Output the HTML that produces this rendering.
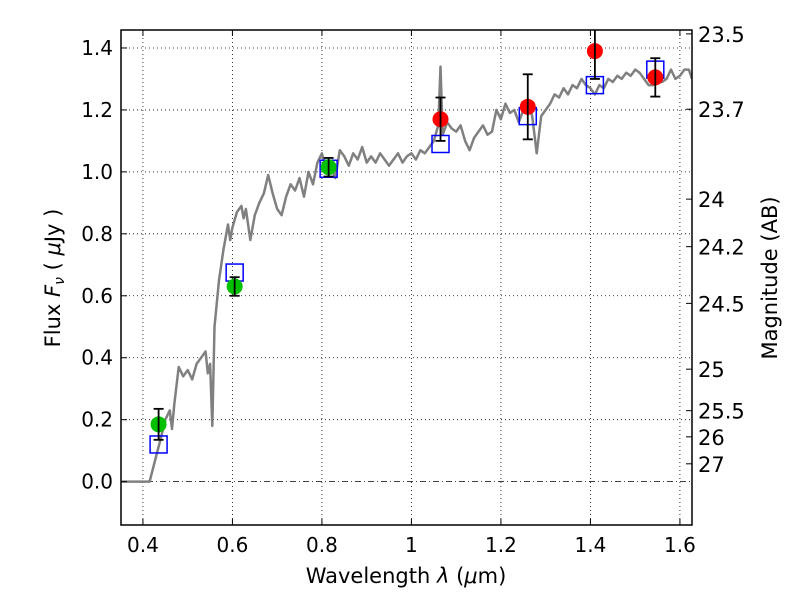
<!DOCTYPE html>
<html><head><meta charset="utf-8"><style>
body{margin:0;background:#fff}
svg{display:block;font-family:"DejaVu Sans","Liberation Sans",sans-serif}
</style></head><body>
<svg id="chart" width="800" height="600" viewBox="0 0 800 600">
<rect width="800" height="600" fill="#fff"/>
<g id="grid"></g><g id="marks"></g><g id="axes"></g>
</svg>
<script>
const specX=[0.35,0.415,0.44,0.45,0.46,0.465,0.47,0.48,0.49,0.50,0.51,0.52,0.53,0.54,0.545,0.55,0.555,0.56,0.57,0.58,0.59,0.595,0.60,0.61,0.62,0.625,0.63,0.64,0.65,0.66,0.67,0.68,0.69,0.70,0.71,0.72,0.73,0.74,0.75,0.76,0.77,0.78,0.79,0.80,0.81,0.82,0.83,0.84,0.85,0.86,0.87,0.88,0.89,0.90,0.91,0.92,0.93,0.94,0.95,0.96,0.97,0.98,0.99,1.00,1.01,1.02,1.03,1.04,1.05,1.06,1.065,1.07,1.08,1.09,1.10,1.11,1.12,1.13,1.14,1.15,1.16,1.17,1.18,1.19,1.20,1.21,1.22,1.23,1.24,1.25,1.26,1.27,1.28,1.29,1.30,1.31,1.32,1.33,1.34,1.35,1.36,1.37,1.38,1.39,1.40,1.41,1.42,1.43,1.44,1.45,1.46,1.47,1.48,1.49,1.50,1.51,1.52,1.53,1.54,1.55,1.56,1.57,1.58,1.59,1.60,1.61,1.62,1.627];
const specY=[0,0,0.14,0.2,0.23,0.17,0.25,0.37,0.34,0.36,0.33,0.38,0.4,0.42,0.35,0.38,0.18,0.5,0.65,0.75,0.83,0.78,0.82,0.87,0.89,0.85,0.88,0.78,0.86,0.9,0.93,0.99,0.93,0.88,0.86,0.92,0.96,0.94,0.98,0.92,1.0,0.96,1.03,1.06,1.0,1.02,0.98,1.07,1.05,1.02,1.06,1.04,1.08,1.03,1.05,1.03,1.06,1.04,1.02,1.04,1.06,1.03,1.05,1.06,1.04,1.07,1.06,1.08,1.1,1.15,1.34,1.12,1.16,1.14,1.13,1.15,1.1,1.07,1.11,1.13,1.15,1.12,1.13,1.2,1.17,1.22,1.19,1.2,1.16,1.2,1.23,1.18,1.06,1.18,1.2,1.22,1.25,1.24,1.27,1.25,1.28,1.27,1.3,1.28,1.27,1.25,1.28,1.27,1.3,1.29,1.31,1.3,1.32,1.31,1.33,1.32,1.3,1.28,1.28,1.29,1.29,1.3,1.33,1.3,1.31,1.33,1.33,1.3];
const greenX=[0.435,0.605,0.815];
const greenY=[0.185,0.63,1.015];
const greenErr=[0.05,0.03,0.03];
const redX=[1.065,1.26,1.41,1.545];
const redY=[1.17,1.21,1.39,1.305];
const redErr=[0.07,0.105,0.09,0.062];
const boxX=[0.435,0.605,0.815,1.065,1.26,1.41,1.545];
const boxY=[0.12,0.675,1.01,1.09,1.18,1.28,1.33];
const xTicks=[0.4,0.6,0.8,1.0,1.2,1.4,1.6];
const xTickLabels=["0.4","0.6","0.8","1","1.2","1.4","1.6"];
const yTicks=[0,0.2,0.4,0.6,0.8,1.0,1.2,1.4];
const yTickLabels=["0.0","0.2","0.4","0.6","0.8","1.0","1.2","1.4"];
const magTicks=[23.5,23.7,24,24.2,24.5,25,25.5,26,27];

const L=121,R=692,T=30,B=525,XMIN=0.351,XMAX=1.627,YMIN=-0.14,YMAX=1.458;
const sx=v=>L+(v-XMIN)/(XMAX-XMIN)*(R-L);
const sy=v=>B-(v-YMIN)/(YMAX-YMIN)*(B-T);
const NS="http://www.w3.org/2000/svg";
function mk(tag,attrs,parent,text){const e=document.createElementNS(NS,tag);for(const k in attrs)e.setAttribute(k,attrs[k]);if(text!==undefined)e.textContent=text;parent.appendChild(e);return e;}
const grid=document.getElementById('grid'),marks=document.getElementById('marks'),axes=document.getElementById('axes');
xTicks.forEach(v=>{const e=mk('line',{x1:sx(v),x2:sx(v),y1:T,y2:B,stroke:'#000','stroke-width':0.8,'stroke-dasharray':'1,3'},grid);
});
yTicks.forEach(v=>{const e=mk('line',{x1:L,x2:R,y1:sy(v),y2:sy(v),stroke:'#000','stroke-width':0.8,'stroke-dasharray':v===0?'6,3,1,3':'1,3'},grid);
});
let d=specX.map((x,i)=>(i?'L':'M')+sx(x).toFixed(1)+','+sy(specY[i]).toFixed(1)).join('');
const sp=mk('path',{d:d,fill:'none',stroke:'#808080','stroke-width':2.5,'stroke-linejoin':'round'},marks);

function errbar(x,y,e){const g=mk('g',{stroke:'#000','stroke-width':1.8},marks);

mk('line',{x1:sx(x),x2:sx(x),y1:sy(y-e),y2:sy(y+e)},g);
mk('line',{x1:sx(x)-5,x2:sx(x)+5,y1:sy(y-e),y2:sy(y-e)},g);
mk('line',{x1:sx(x)-5,x2:sx(x)+5,y1:sy(y+e),y2:sy(y+e)},g);}
const clip=mk('clipPath',{id:'pc'},marks);mk('rect',{x:L,y:T,width:R-L,height:B-T},clip);
boxX.forEach((x,i)=>{const r=mk('rect',{x:sx(x)-8.5,y:sy(boxY[i])-8.5,width:17,height:17,fill:'none',stroke:'#0000ff','stroke-width':1.5},marks);
});
greenX.forEach((x,i)=>{const c=mk('circle',{cx:sx(x),cy:sy(greenY[i]),r:8,fill:'#00c000'},marks);
errbar(x,greenY[i],greenErr[i]);});
redX.forEach((x,i)=>{const c=mk('circle',{cx:sx(x),cy:sy(redY[i]),r:8,fill:'#ff0000'},marks);
errbar(x,redY[i],redErr[i]);});
marks.setAttribute('clip-path','url(#pc)');
const fr=mk('rect',{x:L,y:T,width:R-L,height:B-T,fill:'none',stroke:'#000','stroke-width':1.5},axes);

xTicks.forEach((v,i)=>{mk('line',{x1:sx(v),x2:sx(v),y1:B,y2:B-6,stroke:'#000'},axes);mk('line',{x1:sx(v),x2:sx(v),y1:T,y2:T+6,stroke:'#000'},axes);
const t=mk('text',{x:sx(v),y:B+27,'text-anchor':'middle','font-size':20},axes,xTickLabels[i]);
});
yTicks.forEach((v,i)=>{mk('line',{x1:L,x2:L+6,y1:sy(v),y2:sy(v),stroke:'#000'},axes);
const t=mk('text',{x:L-8,y:sy(v)+7,'text-anchor':'end','font-size':20},axes,yTickLabels[i]);
});
magTicks.forEach(m=>{const f=Math.pow(10,(23.9-m)/2.5);mk('line',{x1:R,x2:R-6,y1:sy(f),y2:sy(f),stroke:'#000'},axes);
const t=mk('text',{x:R+6,y:sy(f)+8,'font-size':21},axes,String(m));
});
</script>
<svg style="position:absolute;left:0;top:0" width="800" height="600">
<text x="406" y="583" text-anchor="middle" font-size="21" font-family="DejaVu Sans, sans-serif">Wavelength  <tspan font-style="italic">λ</tspan> (<tspan font-style="italic">μ</tspan>m)</text>
<text transform="translate(60,278) rotate(-90)" text-anchor="middle" font-size="21" font-family="DejaVu Sans, sans-serif">Flux  <tspan font-style="italic">F</tspan><tspan font-style="italic" font-size="14" dy="4">ν</tspan><tspan dy="-4">  ( </tspan><tspan font-style="italic">μ</tspan>Jy )</text>
<text transform="translate(777,278) rotate(-90)" text-anchor="middle" font-size="21" font-family="DejaVu Sans, sans-serif">Magnitude (AB)</text>
</svg>
</body></html>
